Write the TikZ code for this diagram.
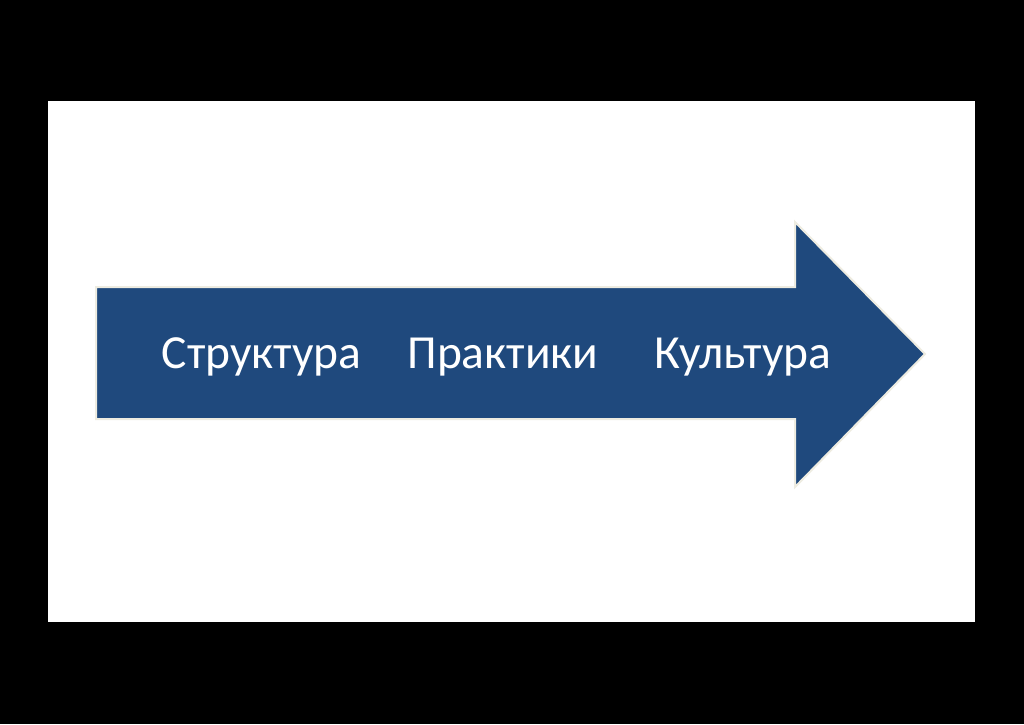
\documentclass[tikz,border=0pt]{standalone}
\usepackage{fontspec}
\setmainfont{Carlito}
\usetikzlibrary{positioning}
\definecolor{arrowblue}{HTML}{1F497D}
\definecolor{edgecream}{HTML}{EEECE1}

\begin{document}
\begin{tikzpicture}[
        x=1pt, y=-1pt,
        font=\fontsize{47.5}{50}\selectfont,
        label/.style={text=white, anchor=base, inner sep=0pt}
    ]
        \fill[black] (0,0) rectangle (1024,724);
        \fill[white] (48,101) rectangle (975,622);
        \useasboundingbox (0,0) rectangle (1024,724);

        \draw[fill=arrowblue, draw=edgecream, line width=2pt, line join=miter]
            (96,287) -- (795,287) -- (795,222) -- (925,354) -- (795,487) -- (795,419) -- (96,419) -- cycle;

        \node[label] (struct) at (261.5,368) {Структура};
        \node[label] (pract) at (503,368) {Практики};
        \node[label] (cult) at (743,368) {Культура};
    \end{tikzpicture}
\end{document}
